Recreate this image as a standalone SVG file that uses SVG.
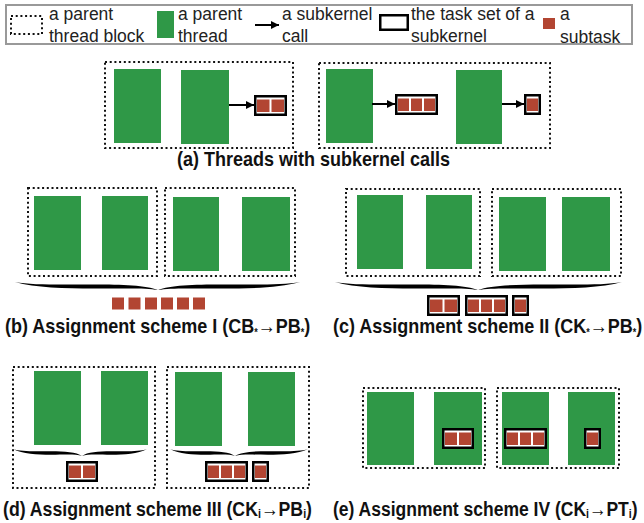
<svg xmlns="http://www.w3.org/2000/svg" xmlns:xlink="http://www.w3.org/1999/xlink" width="644" height="523" viewBox="0 0 644 523">
<defs>
<style>
.dot{fill:none;stroke:#111;stroke-width:2;stroke-dasharray:2 2.7}
.thr{fill:#2f9847}
.sub{fill:#b24532}
.tset{fill:#fff;stroke:#000;stroke-width:2.5}
.lg{font-family:"Liberation Sans",Arial,sans-serif;font-size:17.5px;fill:#222}
.cap{font-family:"Liberation Sans",Arial,sans-serif;font-size:20px;font-weight:bold;fill:#111}
.sm{font-size:10px}
.si{font-size:12px}
.conn{stroke:#000;stroke-width:2;fill:none;marker-end:url(#ah)}
.brace{fill:#000}
</style>
<marker id="ah" viewBox="0 0 10 10" refX="10" refY="5" markerWidth="4" markerHeight="4" orient="auto" markerUnits="strokeWidth">
<path d="M0,0 L10,5 L0,10 Z" fill="#000"/>
</marker>
<path id="arm" d="M0,0 C12,3.4 35,2.5 55,2.5 C75,2.5 92,3.4 100,8 C91,5.6 75,6.6 55,6.6 C35,6.6 14,5.6 0,0 Z"/>
</defs>
<rect width="644" height="523" fill="#fff"/>

<g id="legend">
<rect x="6" y="5" width="626" height="39" fill="#fff" stroke="#999" stroke-width="2"/>
<rect class="dot" x="11" y="16" width="31" height="18"/>
<text class="lg" x="49" y="20">a parent</text>
<text class="lg" x="49" y="42">thread block</text>
<rect class="thr" x="157" y="11" width="17" height="27"/>
<text class="lg" x="178" y="20">a parent</text>
<text class="lg" x="178" y="42">thread</text>
<line class="conn" x1="255" y1="25" x2="279" y2="25"/>
<text class="lg" x="282" y="20">a subkernel</text>
<text class="lg" x="282" y="42">call</text>
<rect class="tset" x="380.25" y="15.25" width="27.5" height="14.5"/>
<text class="lg" x="411" y="20">the task set of a</text>
<text class="lg" x="411" y="42">subkernel</text>
<rect class="sub" x="543" y="18" width="12" height="11"/>
<text class="lg" x="560" y="20">a</text>
<text class="lg" x="560" y="43">subtask</text>
</g>

<!-- (a) -->
<g id="a-block1">
<rect class="dot" x="105" y="62" width="188" height="86"/>
<rect class="thr" x="114" y="69" width="47" height="74"/>
<rect class="thr" x="181" y="70" width="48" height="74"/>
</g>
<g id="a-tasks1">
<rect class="tset" x="255.25" y="96.25" width="30.5" height="18.5"/>
<rect class="sub" x="257" y="99.5" width="12.5" height="12.5"/>
<rect class="sub" x="271.5" y="99.5" width="12.5" height="12.5"/>
</g>
<g id="a-block2">
<rect class="dot" x="319" y="63" width="231" height="85"/>
<rect class="thr" x="326" y="69" width="47" height="74"/>
<rect class="thr" x="456" y="70" width="46" height="74"/>
</g>
<g id="a-tasks2">
<rect class="tset" x="396.25" y="95.25" width="40.5" height="18.5"/>
<rect class="sub" x="398" y="98.5" width="11" height="12.5"/>
<rect class="sub" x="411" y="98.5" width="11" height="12.5"/>
<rect class="sub" x="424" y="98.5" width="11" height="12.5"/>
</g>
<g id="a-tasks3">
<rect class="tset" x="525.25" y="95.25" width="14.5" height="18.5"/>
<rect class="sub" x="527" y="98.5" width="11" height="12.5"/>
</g>
<g id="connectors">
<line class="conn" x1="229" y1="105" x2="254" y2="105"/>
<line class="conn" x1="372" y1="104" x2="395" y2="104"/>
<line class="conn" x1="502" y1="104" x2="524" y2="104"/>
</g>
<text class="cap" transform="translate(177,166) scale(0.9,1)">(a) Threads with subkernel calls</text>

<!-- (b) -->
<g id="b-block1">
<rect class="dot" x="28" y="188" width="129" height="88"/>
<rect class="thr" x="34" y="196" width="47" height="74"/>
<rect class="thr" x="102" y="196" width="46" height="74"/>
</g>
<g id="b-block2">
<rect class="dot" x="165" y="188" width="130" height="88"/>
<rect class="thr" x="173" y="197" width="46" height="74"/>
<rect class="thr" x="242" y="197" width="48" height="74"/>
</g>
<g id="b-brace" class="brace">
<use xlink:href="#arm" transform="translate(15,282) scale(1.43,1)"/>
<use xlink:href="#arm" transform="translate(300,282) scale(-1.42,1)"/>
</g>
<g id="b-subtasks">
<rect class="sub" x="112" y="297.5" width="12" height="12"/>
<rect class="sub" x="128.5" y="297.5" width="12" height="12"/>
<rect class="sub" x="145" y="297.5" width="12" height="12"/>
<rect class="sub" x="161" y="297.5" width="12" height="12"/>
<rect class="sub" x="177" y="297.5" width="12" height="12"/>
<rect class="sub" x="193" y="297.5" width="12" height="12"/>
</g>
<text class="cap" transform="translate(5,333) scale(0.9,1)">(b) Assignment scheme I (CB<tspan class="sm" dy="3">*</tspan><tspan dy="-3">→PB</tspan><tspan class="sm" dy="3">*</tspan><tspan dy="-3">)</tspan></text>

<!-- (c) -->
<g id="c-block1">
<rect class="dot" x="346" y="189" width="134" height="87"/>
<rect class="thr" x="357" y="195" width="46" height="74"/>
<rect class="thr" x="426" y="195" width="46" height="74"/>
</g>
<g id="c-block2">
<rect class="dot" x="492" y="189" width="129" height="87"/>
<rect class="thr" x="499" y="197" width="47" height="74"/>
<rect class="thr" x="562" y="197" width="48" height="74"/>
</g>
<g id="c-brace" class="brace">
<use xlink:href="#arm" transform="translate(335,282) scale(1.43,1)"/>
<use xlink:href="#arm" transform="translate(622,282) scale(-1.44,1)"/>
</g>
<g id="c-tasks1">
<rect class="tset" x="428.25" y="296.25" width="30.5" height="18.5"/>
<rect class="sub" x="430" y="299.5" width="12.5" height="12.5"/>
<rect class="sub" x="444.5" y="299.5" width="12.5" height="12.5"/>
</g>
<g id="c-tasks2">
<rect class="tset" x="466.25" y="296.25" width="40.5" height="18.5"/>
<rect class="sub" x="468" y="299.5" width="11" height="12.5"/>
<rect class="sub" x="481" y="299.5" width="11" height="12.5"/>
<rect class="sub" x="494" y="299.5" width="11" height="12.5"/>
</g>
<g id="c-tasks3">
<rect class="tset" x="513.25" y="296.25" width="14.5" height="18.5"/>
<rect class="sub" x="515" y="299.5" width="11" height="12.5"/>
</g>
<text class="cap" transform="translate(333,333) scale(0.9,1)">(c) Assignment scheme II (CK<tspan class="sm" dy="3">*</tspan><tspan dy="-3">→PB</tspan><tspan class="sm" dy="3">*</tspan><tspan dy="-3">)</tspan></text>

<!-- (d) -->
<g id="d-block1">
<rect class="dot" x="13" y="367" width="142" height="121"/>
<rect class="thr" x="34" y="371" width="47" height="74"/>
<rect class="thr" x="101" y="371" width="47" height="74"/>
<use class="brace" xlink:href="#arm" transform="translate(13,449) scale(0.69,0.875)"/>
<use class="brace" xlink:href="#arm" transform="translate(147,449) scale(-0.65,0.875)"/>
<rect class="tset" x="67.25" y="462.25" width="29.5" height="18.5"/>
<rect class="sub" x="69" y="465.5" width="12" height="12.5"/>
<rect class="sub" x="83" y="465.5" width="12" height="12.5"/>
</g>
<g id="d-block2">
<rect class="dot" x="167" y="367" width="142" height="121"/>
<rect class="thr" x="175" y="372" width="47" height="74"/>
<rect class="thr" x="248" y="372" width="47" height="74"/>
<use class="brace" xlink:href="#arm" transform="translate(170,449) scale(0.65,0.875)"/>
<use class="brace" xlink:href="#arm" transform="translate(308,449) scale(-0.73,0.875)"/>
<rect class="tset" x="206.25" y="462.25" width="40.5" height="18.5"/>
<rect class="sub" x="208" y="465.5" width="11" height="12.5"/>
<rect class="sub" x="221" y="465.5" width="11" height="12.5"/>
<rect class="sub" x="234" y="465.5" width="11" height="12.5"/>
<rect class="tset" x="253.25" y="462.25" width="14.5" height="18.5"/>
<rect class="sub" x="255" y="465.5" width="11" height="12.5"/>
</g>
<text class="cap" transform="translate(3,516) scale(0.885,1)">(d) Assignment scheme III (CK<tspan class="si" dy="2">i</tspan><tspan dy="-2">→PB</tspan><tspan class="si" dy="2">i</tspan><tspan dy="-2">)</tspan></text>

<!-- (e) -->
<g id="e-block1">
<rect class="dot" x="363" y="388" width="122" height="80"/>
<rect class="thr" x="367" y="392" width="47" height="73"/>
<rect class="thr" x="434" y="392" width="48" height="73"/>
<rect class="tset" x="443.25" y="429.25" width="29.5" height="18.5"/>
<rect class="sub" x="445" y="432.5" width="12" height="12.5"/>
<rect class="sub" x="459" y="432.5" width="12" height="12.5"/>
</g>
<g id="e-block2">
<rect class="dot" x="497" y="388" width="122" height="80"/>
<rect class="thr" x="502" y="392" width="47" height="73"/>
<rect class="thr" x="568" y="392" width="47" height="73"/>
<rect class="tset" x="505.25" y="429.25" width="40.5" height="18.5"/>
<rect class="sub" x="507" y="432.5" width="11" height="12.5"/>
<rect class="sub" x="520" y="432.5" width="11" height="12.5"/>
<rect class="sub" x="533" y="432.5" width="11" height="12.5"/>
<rect class="tset" x="585.25" y="429.25" width="14.5" height="18.5"/>
<rect class="sub" x="587" y="432.5" width="11" height="12.5"/>
</g>
<text class="cap" transform="translate(333,516) scale(0.875,1)">(e) Assignment scheme IV (CK<tspan class="si" dy="2">i</tspan><tspan dy="-2">→PT</tspan><tspan class="si" dy="2">i</tspan><tspan dy="-2">)</tspan></text>
</svg>
